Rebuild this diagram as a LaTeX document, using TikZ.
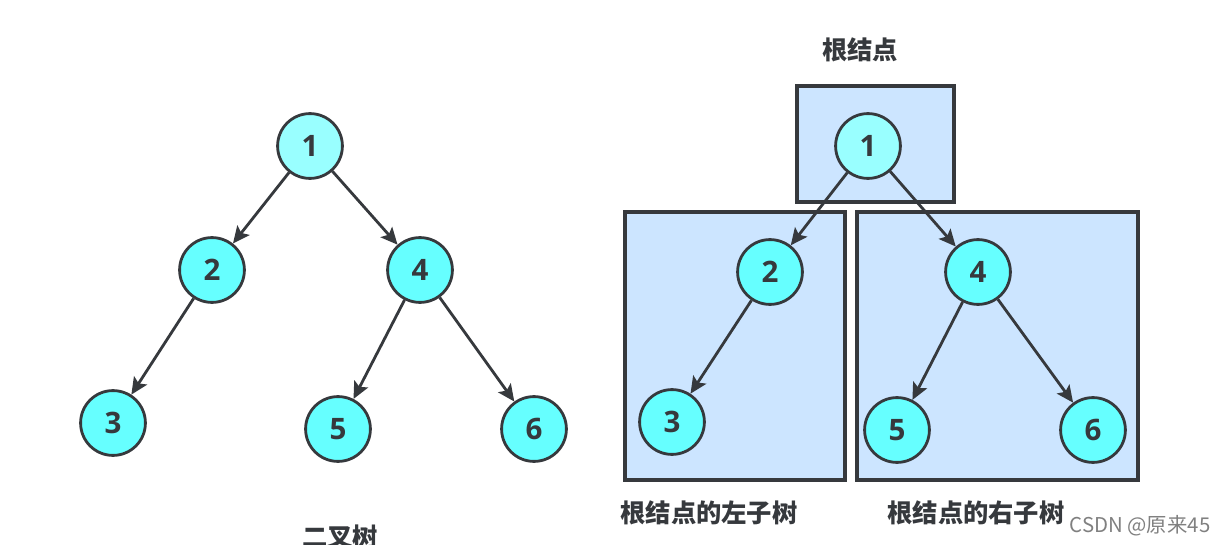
\documentclass[tikz,border=0pt]{standalone}
\usepackage{fontspec}
\setmainfont{Open Sans}
\newfontfamily\cjk{Noto Sans CJK SC}
\usetikzlibrary{arrows.meta}

\definecolor{nodecyan}{HTML}{66FFFF}
\definecolor{rootcyan}{HTML}{99FFFF}
\definecolor{boxblue}{HTML}{CCE5FF}
\definecolor{linegray}{HTML}{36393D}

\begin{document}
\begin{tikzpicture}[
  x=0.025cm, y=-0.025cm,
  tnode/.style={circle, draw=linegray, line width=2pt, fill=nodecyan,
    minimum size=1.62cm, inner sep=0pt, font=\fontsize{21}{21}\selectfont\bfseries, text=linegray},
  troot/.style={tnode, fill=rootcyan},
  box/.style={draw=linegray, line width=2.4pt, fill=boxblue, inner sep=0pt},
  label/.style={font=\cjk\fontsize{18}{18}\selectfont\bfseries, text=linegray},
  arr/.style={-{Stealth[length=12pt, width=11pt, inset=2.5pt]}, line width=2pt, draw=linegray}
]
\useasboundingbox (0,0) rectangle (1226,545);

% Right: the three boxes behind the tree
\node[box, minimum width=3.93cm, minimum height=2.9cm] (rootbox) at (875.5,144) {};
\node[box, minimum width=5.5cm, minimum height=6.7cm] (leftbox) at (735,346) {};
\node[box, minimum width=7.03cm, minimum height=6.7cm] (rightbox) at (997.5,346) {};

% Left: binary tree
\node[troot] (l1) at (310,146) {1};
\node[tnode] (l2) at (212,270) {2};
\node[tnode] (l4) at (420,270) {4};
\node[tnode] (l3) at (113,423) {3};
\node[tnode] (l5) at (338,429) {5};
\node[tnode] (l6) at (534,429) {6};

\draw[arr] (l1) -- (l2);
\draw[arr] (l1) -- (l4);
\draw[arr] (l2) -- (l3);
\draw[arr] (l4) -- (l5);
\draw[arr] (l4) -- (l6);

% Right: same tree split into root and subtrees
\node[troot] (r1) at (868,146) {1};
\node[tnode] (r2) at (770,272) {2};
\node[tnode] (r4) at (978,272) {4};
\node[tnode] (r3) at (672,422) {3};
\node[tnode] (r5) at (897,430) {5};
\node[tnode] (r6) at (1093,430) {6};

\draw[arr] (r1) -- (r2);
\draw[arr] (r1) -- (r4);
\draw[arr] (r2) -- (r3);
\draw[arr] (r4) -- (r5);
\draw[arr] (r4) -- (r6);

% labels
\node[label] (treelabel) at (340,537) {二叉树};
\node[label] (rootlabel) at (860,50) {根结点};
\node[label] (leftlabel) at (709,513) {根结点的左子树};
\node[label] (rightlabel) at (976,513) {根结点的右子树};
\node[font=\cjk\fontsize{14.5}{14.5}\selectfont, text=gray] (mark) at (1140,526) {CSDN @原来45};

\end{tikzpicture}
\end{document}
